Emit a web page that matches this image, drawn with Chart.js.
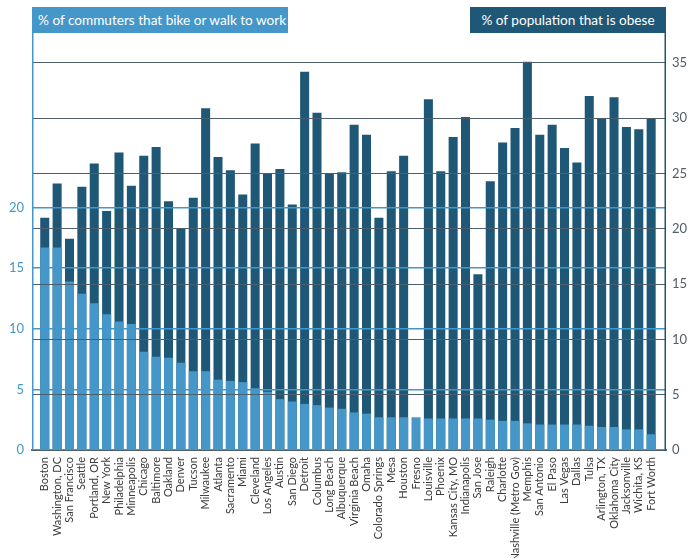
<!DOCTYPE html>
<html>
<head>
<meta charset="utf-8">
<script src="https://cdn.jsdelivr.net/npm/chart.js@4.4.1/dist/chart.umd.min.js"></script>
<style>
  html, body { margin: 0; padding: 0; background: #fff; overflow: hidden; }
  #wrap { position: relative; width: 700px; height: 558px; }
  .tag {
    position: absolute; top: 7px; height: 26px; line-height: 26px; white-space: nowrap;
    color: #fff; font-family: Lato, "Noto Sans", sans-serif; font-size: 13.6px;
    box-sizing: border-box;
  }
  #tagLeft { left: 32px; width: 256px; padding-left: 6px; background: #4497c8; }
  #tagRight { left: 470px; width: 196px; text-align: center; background: #1f5877; }
</style>
</head>
<body>
<div id="wrap">
  <canvas id="chart"></canvas>
  <div class="tag" id="tagLeft">% of commuters that bike or walk to work</div>
  <div class="tag" id="tagRight">% of population that is obese</div>
</div>
<script>
// cities, sorted by share of bike/walk commuters
const cities = [
  'Boston', 'Washington, DC', 'San Francisco', 'Seattle', 'Portland, OR', 'New York',
  'Philadelphia', 'Minneapolis', 'Chicago', 'Baltimore', 'Oakland', 'Denver', 'Tucson',
  'Milwaukee', 'Atlanta', 'Sacramento', 'Miami', 'Cleveland', 'Los Angeles', 'Austin',
  'San Diego', 'Detroit', 'Columbus', 'Long Beach', 'Albuquerque', 'Virginia Beach',
  'Omaha', 'Colorado Springs', 'Mesa', 'Houston', 'Fresno', 'Louisville', 'Phoenix',
  'Kansas City, MO', 'Indianapolis', 'San Jose', 'Raleigh', 'Charlotte',
  'Nashville (Metro Gov)', 'Memphis', 'San Antonio', 'El Paso', 'Las Vegas', 'Dallas',
  'Tulsa', 'Arlington, TX', 'Oklahoma City', 'Jacksonville', 'Wichita, KS', 'Fort Worth'
];

// % of commuters that bike or walk (left axis)
const bikeWalk = [
  16.7, 16.7, 13.9, 12.9, 12.1, 11.2, 10.6, 10.4, 8.1, 7.7, 7.6, 7.2, 6.5,
  6.5, 5.8, 5.7, 5.6, 5.1, 4.8, 4.2, 4.0, 3.8, 3.7, 3.5, 3.4, 3.1,
  3.0, 2.7, 2.7, 2.7, 2.7, 2.6, 2.6, 2.6, 2.6, 2.6, 2.5, 2.4,
  2.4, 2.2, 2.1, 2.1, 2.1, 2.1, 2.0, 1.9, 1.9, 1.7, 1.7, 1.3
];

// % of population that is obese (right axis); no value for Fresno
const obese = [
  21.0, 24.1, 19.1, 23.8, 25.9, 21.6, 26.9, 23.9, 26.6, 27.4, 22.5, 20.0, 22.8,
  30.9, 26.5, 25.3, 23.1, 27.7, 25.0, 25.4, 22.2, 34.2, 30.5, 25.0, 25.1, 29.4,
  28.5, 21.0, 25.2, 26.6, null, 31.7, 25.2, 28.3, 30.1, 15.9, 24.3, 27.8,
  29.1, 35.1, 28.5, 29.4, 27.3, 26.0, 32.0, 30.0, 31.9, 29.2, 29.0, 30.0
];

const leftTicks = [0, 5, 10, 15, 20];
const rightTicks = [0, 5, 10, 15, 20, 25, 30, 35];

const lightBlue = '#4497c8';
const darkBlue = '#1f5877';
const fontFamily = 'Lato, "Noto Sans", sans-serif';

const toPoints = (arr) => arr.map((v, i) => ({ x: i, y: v }));

// side lines of the plot box; the scale borders get drawn before their position is known
const frameLines = {
  id: 'frameLines',
  afterDraw(c) {
    const { ctx, chartArea: a } = c;
    ctx.save();
    ctx.lineWidth = 1.5;
    ctx.strokeStyle = lightBlue;
    ctx.beginPath();
    ctx.moveTo(a.left + 0.75, a.top);
    ctx.lineTo(a.left + 0.75, a.bottom);
    ctx.stroke();
    ctx.strokeStyle = darkBlue;
    ctx.beginPath();
    ctx.moveTo(a.right - 0.75, a.top);
    ctx.lineTo(a.right - 0.75, a.bottom);
    ctx.stroke();
    ctx.restore();
  }
};

new Chart(document.getElementById('chart'), {
  type: 'bar',
  data: {
    datasets: [{
      label: '% of commuters that bike or walk to work',
      data: toPoints(bikeWalk),
      backgroundColor: lightBlue,
      yAxisID: 'yLeft'
    }, {
      label: '% of population that is obese',
      data: toPoints(obese),
      backgroundColor: darkBlue,
      yAxisID: 'yRight'
    }]
  },
  plugins: [frameLines],
  options: {
    responsive: true,
    maintainAspectRatio: false,
    animation: false,
    layout: { padding: { top: 33 } },
    datasets: {
      bar: { grouped: false, barPercentage: 0.73, categoryPercentage: 1 }
    },
    plugins: { legend: { display: false }, tooltip: { enabled: false } },
    scales: {
      x: {
        type: 'linear',
        offset: false,
        min: -1.03,
        max: 50.2,
        afterBuildTicks: (s) => { s.ticks = cities.map((_, i) => ({ value: i })); },
        afterFit: (s) => { s.height = 108; },
        grid: { display: false, drawTicks: false },
        border: { display: true, color: '#2f7fb3', width: 2, z: 1 },
        ticks: {
          autoSkip: false,
          minRotation: 90,
          maxRotation: 90,
          padding: 7,
          color: '#3a3a3a',
          font: { family: fontFamily, size: 11 },
          callback: (v) => cities[v]
        }
      },
      yLeft: {
        position: 'left',
        min: 0,
        max: 34.4,
        afterBuildTicks: (s) => { s.ticks = leftTicks.map(v => ({ value: v })); },
        afterFit: (s) => { s.width = 32; },
        grid: { color: lightBlue, lineWidth: 1.5, drawTicks: false, z: 1 },
        border: { display: false },
        ticks: { color: lightBlue, padding: 8, font: { family: fontFamily, size: 13 } }
      },
      yRight: {
        position: 'right',
        min: 0,
        max: 37.7,
        afterBuildTicks: (s) => { s.ticks = rightTicks.map(v => ({ value: v })); },
        afterFit: (s) => { s.width = 34; },
        grid: { color: '#4c5f6b', lineWidth: 1, drawTicks: false, z: 1 },
        border: { display: false },
        ticks: { color: '#4f5d66', padding: 6, font: { family: fontFamily, size: 13 } }
      }
    }
  }
});
</script>
</body>
</html>
